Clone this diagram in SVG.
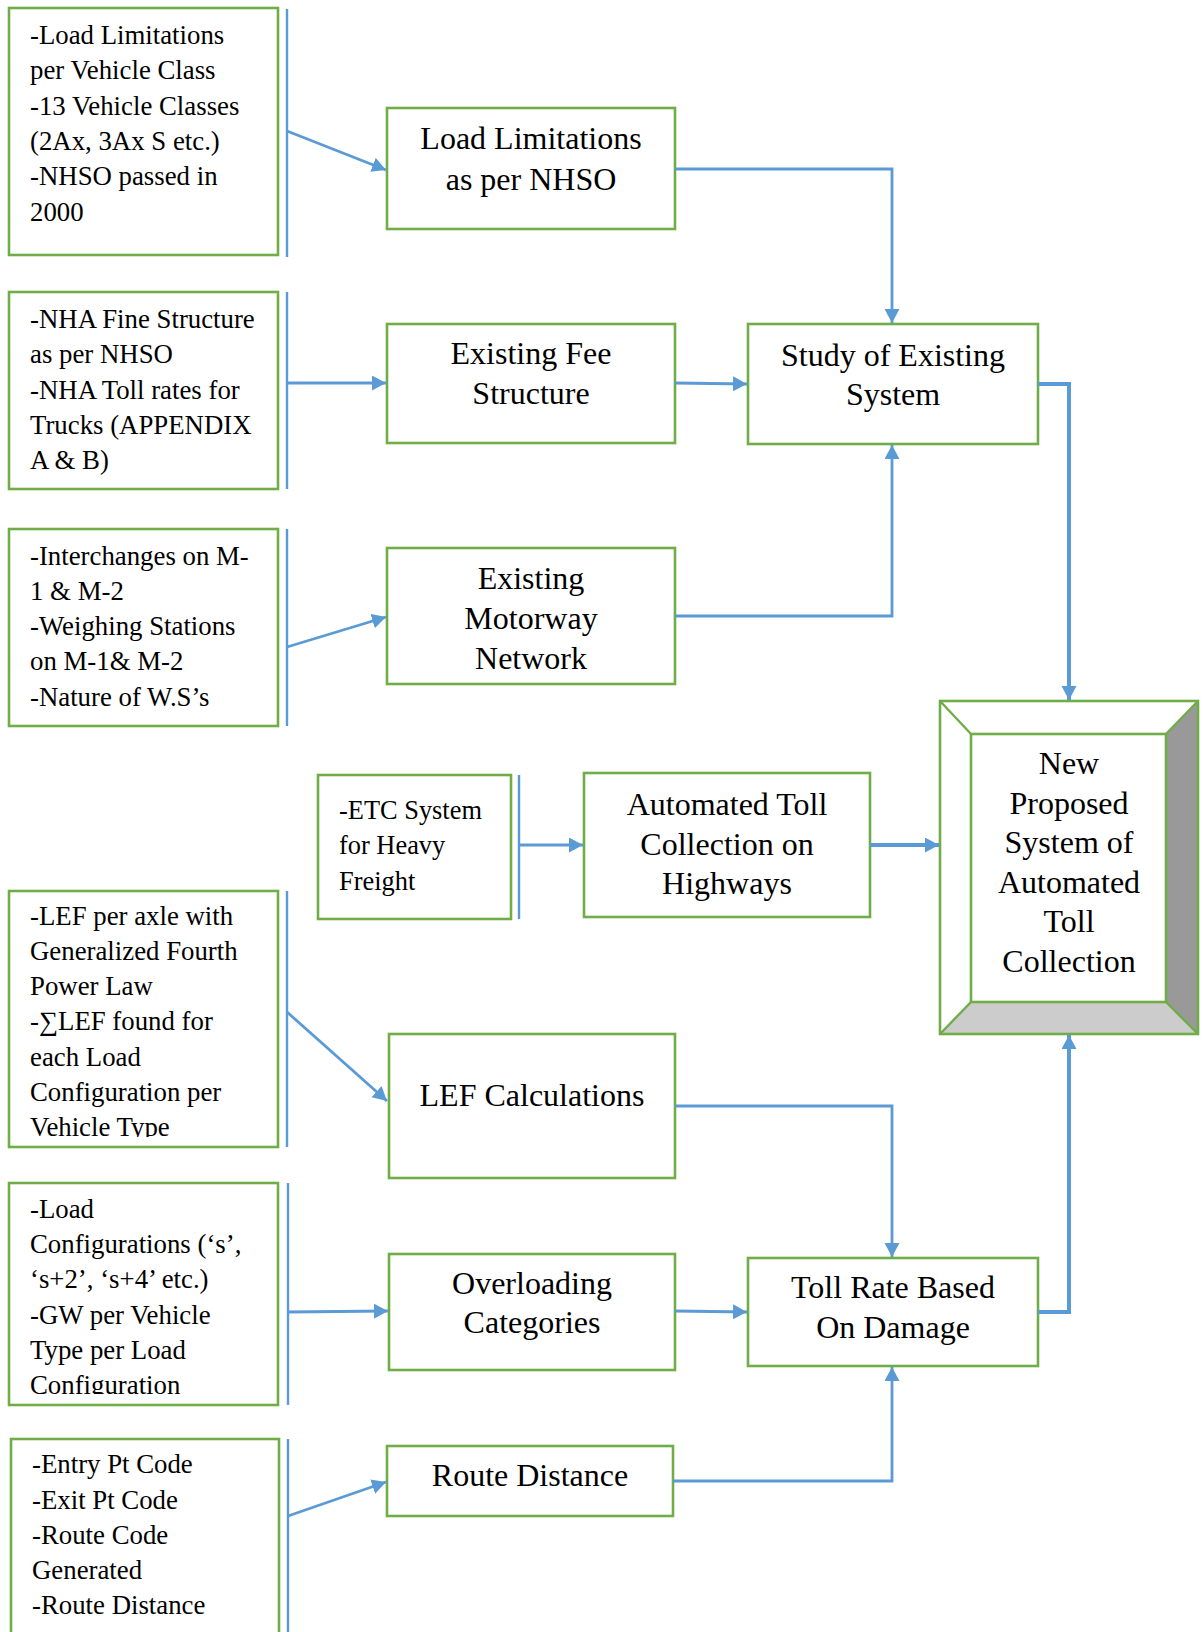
<svg xmlns="http://www.w3.org/2000/svg" width="1203" height="1632" viewBox="0 0 1203 1632">
<style>
.box{fill:#fff;stroke:#70AD47;stroke-width:2.6}
.bar{stroke:#5B9BD5;stroke-width:2.4;fill:none}
.con{stroke:#5B9BD5;stroke-width:2.8;fill:none}
.thick{stroke:#5B9BD5;stroke-width:4;fill:none}
.s{font-family:"Liberation Serif","Times New Roman",serif;font-size:26.8px;fill:#000}
.m{font-family:"Liberation Serif","Times New Roman",serif;font-size:32px;fill:#000;text-anchor:middle}
.e{font-family:"Liberation Serif","Times New Roman",serif;font-size:26.4px;fill:#000}
</style>
<defs>
<marker id="ah" markerUnits="userSpaceOnUse" markerWidth="16" markerHeight="16" refX="14" refY="7.5" orient="auto">
<path d="M0,0 L14,7.5 L0,15 z" fill="#5B9BD5"/>
</marker>
<clipPath id="c4"><rect x="9" y="891" width="269" height="246"/></clipPath>
<clipPath id="c5"><rect x="9" y="1183" width="269" height="211"/></clipPath>
</defs>

<g id="n-a1">
<rect class="box" x="9" y="8" width="269" height="247"/>
<text class="s"><tspan x="30" y="44">-Load Limitations</tspan><tspan x="30" y="79.3">per Vehicle Class</tspan><tspan x="30" y="114.6">-13 Vehicle Classes</tspan><tspan x="30" y="150">(2Ax, 3Ax S etc.)</tspan><tspan x="30" y="185.2">-NHSO passed in</tspan><tspan x="30" y="220.5">2000</tspan></text>
</g>
<g id="n-a2">
<rect class="box" x="9" y="292" width="269" height="197"/>
<text class="s"><tspan x="30" y="328">-NHA Fine Structure</tspan><tspan x="30" y="363.3">as per NHSO</tspan><tspan x="30" y="398.6">-NHA Toll rates for</tspan><tspan x="30" y="434">Trucks (APPENDIX</tspan><tspan x="30" y="469">A &amp; B)</tspan></text>
</g>
<g id="n-a3">
<rect class="box" x="9" y="529" width="269" height="197"/>
<text class="s"><tspan x="30" y="564.5">-Interchanges on M-</tspan><tspan x="30" y="599.8">1 &amp; M-2</tspan><tspan x="30" y="635.1">-Weighing Stations</tspan><tspan x="30" y="670.4">on M-1&amp; M-2</tspan><tspan x="30" y="705.7">-Nature of W.S’s</tspan></text>
</g>
<g id="n-a4">
<rect class="box" x="9" y="891" width="269" height="256"/>
<text class="s" clip-path="url(#c4)"><tspan x="30" y="924.5">-LEF per axle with</tspan><tspan x="30" y="959.8">Generalized Fourth</tspan><tspan x="30" y="995.1">Power Law</tspan><tspan x="30" y="1030.4">-∑LEF found for</tspan><tspan x="30" y="1065.7">each Load</tspan><tspan x="30" y="1101">Configuration per</tspan><tspan x="30" y="1136.3">Vehicle Type</tspan></text>
</g>
<g id="n-a5">
<rect class="box" x="9" y="1183" width="269" height="222"/>
<text class="s" clip-path="url(#c5)"><tspan x="30" y="1217.7">-Load</tspan><tspan x="30" y="1253">Configurations (‘s’,</tspan><tspan x="30" y="1288.3">‘s+2’, ‘s+4’ etc.)</tspan><tspan x="30" y="1323.6">-GW per Vehicle</tspan><tspan x="30" y="1358.9">Type per Load</tspan><tspan x="30" y="1394.2">Configuration</tspan></text>
</g>
<g id="n-a6">
<rect class="box" x="11" y="1439" width="268" height="210"/>
<text class="s"><tspan x="32" y="1473">-Entry Pt Code</tspan><tspan x="32" y="1508.5">-Exit Pt Code</tspan><tspan x="32" y="1543.8">-Route Code</tspan><tspan x="32" y="1579">Generated</tspan><tspan x="32" y="1614.3">-Route Distance</tspan></text>
</g>
<g id="n-etc">
<rect class="box" x="318" y="775" width="193" height="144"/>
<text class="e"><tspan x="339" y="819">-ETC System</tspan><tspan x="339" y="854.3">for Heavy</tspan><tspan x="339" y="889.6">Freight</tspan></text>
</g>

<g id="n-b1">
<rect class="box" x="387" y="108" width="288" height="121"/>
<text class="m"><tspan x="531" y="149">Load Limitations</tspan><tspan x="531" y="189.5">as per NHSO</tspan></text>
</g>
<g id="n-b2">
<rect class="box" x="387" y="324" width="288" height="119"/>
<text class="m"><tspan x="531" y="364">Existing Fee</tspan><tspan x="531" y="404">Structure</tspan></text>
</g>
<g id="n-c1">
<rect class="box" x="748" y="324" width="290" height="120"/>
<text class="m"><tspan x="893" y="365.5">Study of Existing</tspan><tspan x="893" y="405">System</tspan></text>
</g>
<g id="n-b3">
<rect class="box" x="387" y="548" width="288" height="136"/>
<text class="m"><tspan x="531" y="589">Existing</tspan><tspan x="531" y="629">Motorway</tspan><tspan x="531" y="668.5">Network</tspan></text>
</g>
<g id="n-atc">
<rect class="box" x="584" y="773" width="286" height="144"/>
<text class="m"><tspan x="727" y="815">Automated Toll</tspan><tspan x="727" y="854.5">Collection on</tspan><tspan x="727" y="894">Highways</tspan></text>
</g>
<g id="n-new">
<rect x="940" y="701" width="258" height="333" fill="#fff"/>
<polygon points="1198,701 1166,734 1166,1002 1198,1034" fill="#999"/>
<polygon points="940,1034 971,1002 1166,1002 1198,1034" fill="#ccc"/>
<rect x="940" y="701" width="258" height="333" fill="none" stroke="#70AD47" stroke-width="2.6"/>
<rect x="971" y="734" width="195" height="268" fill="#fff" stroke="#70AD47" stroke-width="2.6"/>
<path d="M940,701 L971,734 M1198,701 L1166,734 M940,1034 L971,1002 M1198,1034 L1166,1002" stroke="#70AD47" stroke-width="2.4"/>
<text class="m"><tspan x="1069" y="774">New</tspan><tspan x="1069" y="813.5">Proposed</tspan><tspan x="1069" y="853">System of</tspan><tspan x="1069" y="892.5">Automated</tspan><tspan x="1069" y="932">Toll</tspan><tspan x="1069" y="971.5">Collection</tspan></text>
</g>
<g id="n-lef">
<rect class="box" x="389" y="1034" width="286" height="144"/>
<text class="m"><tspan x="532" y="1106">LEF Calculations</tspan></text>
</g>
<g id="n-over">
<rect class="box" x="389" y="1254" width="286" height="116"/>
<text class="m"><tspan x="532" y="1293.5">Overloading</tspan><tspan x="532" y="1333">Categories</tspan></text>
</g>
<g id="n-toll">
<rect class="box" x="748" y="1258" width="290" height="108"/>
<text class="m"><tspan x="893" y="1298">Toll Rate Based</tspan><tspan x="893" y="1338">On Damage</tspan></text>
</g>
<g id="n-route">
<rect class="box" x="387" y="1446" width="286" height="70"/>
<text class="m"><tspan x="530" y="1486">Route Distance</tspan></text>
</g>

<g id="connectors">
<line class="bar" x1="287" y1="9" x2="287" y2="257"/>
<line class="bar" x1="287" y1="292" x2="287" y2="489"/>
<line class="bar" x1="287" y1="529" x2="287" y2="726"/>
<line class="bar" x1="519" y1="775" x2="519" y2="919"/>
<line class="bar" x1="287" y1="891" x2="287" y2="1147"/>
<line class="bar" x1="288" y1="1183" x2="288" y2="1405"/>
<line class="bar" x1="288" y1="1439" x2="288" y2="1632"/>

<line class="con" x1="287" y1="131" x2="386" y2="170" marker-end="url(#ah)"/>
<line class="con" x1="287" y1="383" x2="386" y2="383" marker-end="url(#ah)"/>
<line class="con" x1="287" y1="647" x2="386" y2="617" marker-end="url(#ah)"/>
<line class="con" x1="519" y1="845" x2="583" y2="845" marker-end="url(#ah)"/>
<line class="con" x1="287" y1="1012" x2="387" y2="1101" marker-end="url(#ah)"/>
<line class="con" x1="288" y1="1312" x2="388" y2="1311" marker-end="url(#ah)"/>
<line class="con" x1="288" y1="1516" x2="386" y2="1482" marker-end="url(#ah)"/>

<polyline class="con" points="675,169 892,169 892,323" marker-end="url(#ah)"/>
<line class="con" x1="675" y1="383" x2="747" y2="384" marker-end="url(#ah)"/>
<polyline class="con" points="675,616 892,616 892,445" marker-end="url(#ah)"/>
<polyline class="thick" points="1038,384 1069,384 1069,700" marker-end="url(#ah)"/>
<line class="thick" x1="870" y1="845" x2="939" y2="845" marker-end="url(#ah)"/>
<polyline class="con" points="675,1106 892,1106 892,1257" marker-end="url(#ah)"/>
<line class="con" x1="675" y1="1311" x2="747" y2="1312" marker-end="url(#ah)"/>
<polyline class="con" points="673,1481 892,1481 892,1367" marker-end="url(#ah)"/>
<polyline class="thick" points="1038,1312 1069,1312 1069,1035" marker-end="url(#ah)"/>
</g>
</svg>
